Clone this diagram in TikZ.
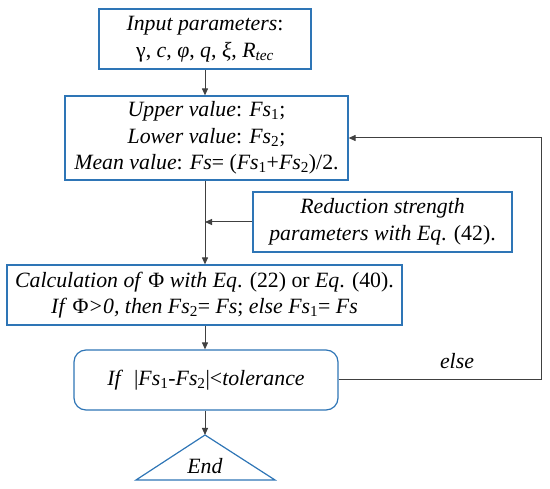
\documentclass[tikz,border=0pt]{standalone}
\usepackage{fontspec}
\setmainfont{Liberation Serif}
\usetikzlibrary{arrows.meta,calc}
\definecolor{boxblue}{HTML}{2E75B6}
\definecolor{linegray}{HTML}{404040}
\newcommand\sbs[1]{\textsubscript{#1}}
\tikzset{
  flowbox/.style={draw=boxblue,line width=1.2pt,align=center,inner sep=0pt,
    font=\fontsize{21.8}{26.5}\selectfont},
  conn/.style={draw=linegray,line width=1pt,-{Triangle[length=7pt,width=6pt]}},
  lbl/.style={font=\fontsize{21.8}{26.5}\selectfont,inner sep=0pt}
}
\begin{document}
\begin{tikzpicture}[x=1pt,y=-1pt]
\useasboundingbox (0,0) rectangle (550,489);
\node[flowbox,minimum width=212pt,minimum height=60pt] (inp) at (205,39)
  {\textit{Input parameters}:\\ γ, \textit{c}, \textit{φ}, \textit{q}, \textit{ξ}, \textit{R\sbs{tec}}};
\node[flowbox,minimum width=283pt,minimum height=84pt] (bnd) at (206.5,138)
  {\textit{Upper value}: \textit{Fs}\sbs{1};\\
   \textit{Lower value}: \textit{Fs}\sbs{2};\\
   \textit{Mean value}: \textit{Fs}= (\textit{Fs}\sbs{1}+\textit{Fs}\sbs{2})/2.};
\node[flowbox,minimum width=259pt,minimum height=60pt] (red) at (382.5,222)
  {\textit{Reduction strength}\\ \textit{parameters with Eq}. (42).};
\node[flowbox,minimum width=395pt,minimum height=60pt] (calc) at (204.5,295)
  {\textit{Calculation of} Φ \textit{with Eq}. (22) or \textit{Eq}. (40).\\
   \textit{If} Φ\textit{>0, then Fs}\sbs{2}= \textit{Fs}; \textit{else Fs}\sbs{1}= \textit{Fs}};
\node[flowbox,rounded corners=12pt,minimum width=264pt,minimum height=60pt] (chk) at (206,380)
  {\textit{If} ~|\textit{Fs}\sbs{1}-\textit{Fs}\sbs{2}|<\textit{tolerance}};
\coordinate (apex) at (205,435);
\coordinate (bl) at (136,480);
\coordinate (br) at (275,480);
\draw[boxblue,line width=1.2pt,line join=miter] (apex) -- (br) -- (bl) -- cycle;
\node[lbl] (endt) at (205,466) {\textit{End}};
\coordinate (trunk) at (205,0);
\coordinate (loopr) at (541,0);
\draw[conn] (inp.south -| trunk) -- (bnd.north -| trunk);
\draw[conn] (bnd.south -| trunk) -- (calc.north -| trunk);
\draw[conn] (red.west) -- (red.west -| trunk);
\draw[conn] (calc.south -| trunk) -- (chk.north -| trunk);
\draw[conn] (chk.south -| trunk) -- (apex);
\draw[conn] (chk.east) -- (chk.east -| loopr) -- (bnd.east -| loopr) -- (bnd.east);
\node[lbl] (elsel) at (457,361) {\textit{else}};
\end{tikzpicture}
\end{document}
